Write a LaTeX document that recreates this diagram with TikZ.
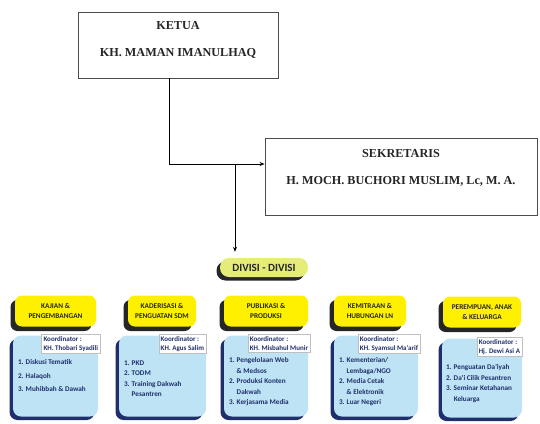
\documentclass[tikz,border=0pt]{standalone}
\usepackage{fontspec}
\setmainfont{Liberation Serif}
\newfontfamily\calib{Carlito}
\usetikzlibrary{positioning,arrows.meta}

\definecolor{kuning}{HTML}{FFF000}
\definecolor{birumuda}{HTML}{BDE3F5}
\definecolor{biru}{HTML}{1F2F6B}
\definecolor{pil}{HTML}{E6EC78}

\begin{document}
\begin{tikzpicture}[x=1pt,y=-1pt,
  kotak/.style={draw=black!70, line width=0.9pt, fill=white},
  judul/.style={font=\fontsize{12.2}{27}\selectfont\bfseries, align=center, inner sep=0pt, text=black!85},
  panah/.style={-{Stealth[length=5pt,width=4pt]}, line width=0.9pt},
  bayang/.style 2 args={preaction={fill=#1, transform canvas={xshift=-#2,yshift=-#2}}},
  divisi/.style={fill=kuning, rounded corners=7pt, minimum height=31pt, inner sep=1pt,
    font=\calib\fontsize{7.3}{10.5}\selectfont\bfseries, align=center, text=black!85,
    bayang={black!85}{4.5pt}},
  isi/.style={fill=birumuda, rounded corners=8pt, minimum height=81pt, bayang={biru}{3.5pt}},
  koor/.style={fill=white, draw=black!25, line width=0.4pt, anchor=north east, inner sep=2pt,
    font=\calib\fontsize{7}{9}\selectfont\bfseries, align=left, text=biru},
  daftar/.style={anchor=north west, inner sep=0pt,
    font=\calib\fontsize{7.2}{10.5}\selectfont\bfseries, align=left, text=biru}]

\useasboundingbox (0,0) rectangle (540,423);

% ketua dan sekretaris
\node[kotak, minimum width=200pt, minimum height=66pt] (ketua) at (178,45) {};
\node[judul] (ketuanama) at (178,39.5) {KETUA\\KH. MAMAN IMANULHAQ};
\node[kotak, minimum width=272pt, minimum height=77pt] (sek) at (401,176.5) {};
\node[judul] (seknama) at (401,167.5) {SEKRETARIS\\H. MOCH. BUCHORI MUSLIM, Lc, M. A.};

\node[fill=pil, rounded corners=9pt, minimum width=88pt, minimum height=19pt, inner sep=0pt,
  font=\calib\fontsize{11}{12}\selectfont\bfseries, text=black!85, bayang={black!85}{3.5pt}]
  (divisi) at (264,267.5) {DIVISI - DIVISI};

\coordinate (siku) at (169,164);
\coordinate (cabang) at (235,164);
\draw[panah] (ketua.south -| siku) -- (siku) -- (sek.west |- siku);
\draw[panah] (cabang) -- ([yshift=6pt]divisi.north -| cabang);

% kolom 1
\node[divisi, minimum width=81pt] (kajian) at (55.5,311) {KAJIAN \&\\PENGEMBANGAN};
\node[isi, minimum width=85pt] (kajianbox) at (55.5,376) {};
\node[koor] (kajiankoor) at ([xshift=2pt,yshift=1pt]kajianbox.north east) {Koordinator :\\KH. Thobari Syadili};
\node[daftar] (kajianlist) at ([xshift=5pt,yshift=-24pt]kajianbox.north west)
  {1. Diskusi Tematik\\[3pt]2. Halaqoh\\[3pt]3. Muhibbah \& Dawah};

% kolom 2
\node[divisi, minimum width=68pt] (kader) at (162,311) {KADERISASI \&\\PENGUATAN SDM};
\node[isi, minimum width=87pt] (kaderbox) at (162.5,376) {};
\node[koor] (kaderkoor) at ([xshift=0pt,yshift=1pt]kaderbox.north east) {Koordinator :\\KH. Agus Salim};
\node[daftar] (kaderlist) at ([xshift=5pt,yshift=-25pt]kaderbox.north west)
  {1. PKD\\2. TODM\\3. Training Dakwah\\\phantom{3. }Pesantren};

% kolom 3
\node[divisi, minimum width=84pt] (publik) at (266,311) {PUBLIKASI \&\\PRODUKSI};
\node[isi, minimum width=84pt] (publikbox) at (266,376) {};
\node[koor] (publikkoor) at ([xshift=2pt,yshift=1pt]publikbox.north east) {Koordinator :\\KH. Misbahul Munir};
\node[daftar] (publiklist) at ([xshift=5pt,yshift=-22pt]publikbox.north west)
  {1. Pengelolaan Web\\\phantom{1. }\& Medsos\\2. Produksi Konten\\\phantom{2. }Dakwah\\3. Kerjasama Media};

% kolom 4
\node[divisi, minimum width=72pt] (mitra) at (370,311) {KEMITRAAN \&\\HUBUNGAN LN};
\node[isi, minimum width=84pt] (mitrabox) at (376,376) {};
\node[koor] (mitrakoor) at ([xshift=2pt,yshift=1pt]mitrabox.north east) {Koordinator :\\KH. Syamsul Ma'arif};
\node[daftar] (mitralist) at ([xshift=5pt,yshift=-22pt]mitrabox.north west)
  {1. Kementerian/\\\phantom{1. }Lembaga/NGO\\2. Media Cetak\\\phantom{2. }\& Elektronik\\3. Luar Negeri};

% kolom 5
\node[divisi, minimum width=78pt] (perempuan) at (482,312) {PEREMPUAN, ANAK\\\& KELUARGA};
\node[isi, minimum width=80pt, minimum height=79pt] (perempuanbox) at (482,378) {};
\node[koor] (perempuankoor) at ([xshift=0pt,yshift=1pt]perempuanbox.north east) {Koordinator :\\Hj. Dewi Asi A};
\node[daftar] (perempuanlist) at ([xshift=4pt,yshift=-26pt]perempuanbox.north west)
  {1. Penguatan Da'iyah\\2. Da'i Cilik Pesantren\\3. Seminar Ketahanan\\\phantom{3. }Keluarga};
\end{tikzpicture}
\end{document}
